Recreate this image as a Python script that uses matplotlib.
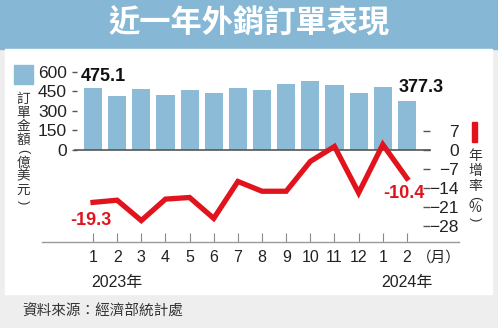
import matplotlib
matplotlib.use("Agg")
import matplotlib.pyplot as plt
from matplotlib.patches import Rectangle

# 外銷訂單金額（億美元）與年增率（%），2023/1 ~ 2024/2
months = list(range(1, 15))
month_labels = ["1", "2", "3", "4", "5", "6", "7", "8", "9", "10", "11", "12", "1", "2"]
orders = [475.1, 417, 466, 422, 458, 440, 479, 461, 510, 530, 502, 435, 484, 377.3]
yoy = [-19.3, -18.5, -26.0, -18.1, -17.5, -25.2, -11.6, -15.2, -15.2, -4.2, 1.3, -15.8, 2.0, -10.4]
order_ticks = [0, 150, 300, 450, 600]
yoy_ticks = [7, 0, -7, -14, -21, -28]
years = ["2023年", "2024年"]

BAR = "#8bbbd7"
RED = "#e1141d"
TITLE_BG = "#86b8d5"
CJK = ["Noto Sans CJK TC"]

plt.rcParams["font.family"] = ["Liberation Sans", "Noto Sans CJK TC"]

W, H = 498, 328
fig = plt.figure(figsize=(W / 100, H / 100), dpi=100)
fig.patch.set_facecolor("#eeeeee")


def fx(x):
    return x / W


def fy(y):
    return 1 - y / H


def vtext(x, chars, ys, size):
    # 直排文字：括號轉 90 度
    for ch, yc in zip(chars, ys):
        if ch in "()":
            fig.text(fx(x), fy(yc), ch, fontsize=size * 0.95, family=["Liberation Sans"],
                     color="#333333", ha="center", va="center", rotation=-90,
                     rotation_mode="anchor")
        else:
            fig.text(fx(x), fy(yc), ch, fontsize=size, family=CJK, color="#333333",
                     ha="center", va="center")


# 底色：標題列、白色圖區、灰色資料來源列
fig.add_artist(Rectangle((0, fy(49)), 1, 49 / H, transform=fig.transFigure,
                         color=TITLE_BG, zorder=0))
fig.add_artist(Rectangle((fx(5), fy(294)), fx(487), (294 - 49) / H,
                         transform=fig.transFigure, color="white", zorder=0))

fig.text(0.5, fy(24), "近一年外銷訂單表現", color="white", fontsize=22.5,
         weight="bold", family=CJK, ha="center", va="center")
fig.text(fx(22), fy(312), "資料來源：經濟部統計處", color="#333333",
         fontsize=10.5, family=CJK, va="center")

# 主圖
left, right, top, bottom = 77, 423, 60, 242
ax = fig.add_axes([fx(left), fy(bottom), (right - left) / W, (bottom - top) / H])
ax.patch.set_visible(False)
ax.bar(months, orders, width=0.75, color=BAR, zorder=1)
ax.set_xlim(0.3375, 14.665)
ax.set_ylim(-707.7, 692.3)
for s in ax.spines.values():
    s.set_visible(False)
ax.set_yticks(order_ticks)
ax.tick_params(axis="y", length=3.6, width=1, color="#555555", pad=3.6,
               labelsize=12.5, labelcolor="#222222")
ax.set_xticks(months, month_labels)
ax.tick_params(axis="x", direction="in", length=6.5, width=0.8, color="#888888",
               pad=6, labelsize=11.5, labelcolor="#222222")

ax.axhline(0, xmin=-0.006, xmax=(430 - left) / (right - left), color="#555555",
           lw=1.2, clip_on=False, zorder=2)
ax.plot([(42 - left) / (right - left), (459 - left) / (right - left)], [0, 0],
        transform=ax.transAxes, color="#999999", lw=1, clip_on=False)

xt = ax.get_xaxis_transform()
ax.text(2, -0.225, years[0], transform=xt, ha="center", va="center", fontsize=11.5,
        color="#222222")
ax.text(14, -0.225, years[1], transform=xt, ha="center", va="center", fontsize=11.5,
        color="#222222")
ax.text(14.4, -0.088, "（月）", transform=xt, ha="left", va="center", fontsize=10.5,
        family=CJK, color="#222222")

ax.annotate(f"{orders[0]}", (months[0], orders[0]), xytext=(7.6, 8.6),
            textcoords="offset points", ha="center", va="center", fontsize=13,
            weight="bold", color="#111111")
ax.annotate(f"{orders[-1]}", (months[-1], orders[-1]), xytext=(10.4, 9.4),
            textcoords="offset points", ha="center", va="center", fontsize=13,
            weight="bold", color="#111111")

# 年增率折線（右軸）
ax2 = ax.twinx()
ax2.plot(months, yoy, color=RED, lw=3.8, solid_joinstyle="miter", zorder=3)
ax2.set_ylim(-33.9, 33.16)
for s in ax2.spines.values():
    s.set_visible(False)
ax2.set_yticks(yoy_ticks)
ax2.tick_params(axis="y", length=5, width=1, color="#555555", pad=20.9,
                labelsize=12.5, labelcolor="#222222")
for lab in ax2.get_yticklabels():
    lab.set_ha("right")

ax2.annotate(f"{yoy[0]}", (months[0], yoy[0]), xytext=(-1.8, -13.4),
             textcoords="offset points", ha="center", va="center", fontsize=13,
             weight="bold", color=RED)
ax2.annotate(f"{yoy[-1]}", (months[-1], yoy[-1]), xytext=(-2.5, -11),
             textcoords="offset points", ha="center", va="center", fontsize=13,
             weight="bold", color=RED)

# 圖例：左側長條、右側折線
fig.add_artist(Rectangle((fx(14), fy(84)), 19 / W, 19 / H, transform=fig.transFigure,
                         color=BAR))
vtext(23, "訂單金額(億美元)", [99, 112.5, 126, 139.5, 151, 162.5, 176, 189.5, 202], 9.8)

fig.add_artist(Rectangle((fx(472), fy(142)), 5 / W, 20 / H, transform=fig.transFigure,
                         color=RED))
vtext(475, "年增率(%)", [156, 171, 186, 198.5, 208.5, 219], 10)

fig.savefig("out.png", dpi=100)
